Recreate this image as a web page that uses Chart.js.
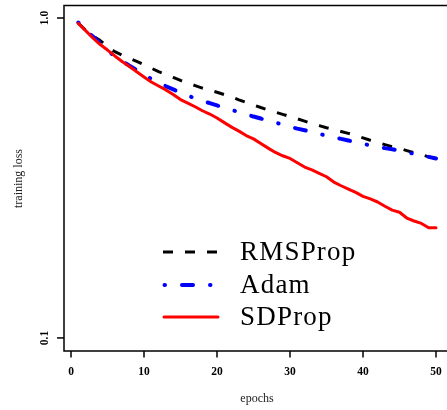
<!DOCTYPE html>
<html>
<head>
<meta charset="utf-8">
<script src="https://cdn.jsdelivr.net/npm/chart.js@4"></script>
<style>
  body { margin: 0; background: #fff; }
  canvas { display: block; }
</style>
</head>
<body>
<canvas id="lossChart" width="447" height="410"></canvas>
<script>
var epochs = [1, 2, 3, 4, 5, 6, 7, 8, 9, 10, 11, 12, 13, 14, 15, 16, 17, 18, 19, 20,
              21, 22, 23, 24, 25, 26, 27, 28, 29, 30, 31, 32, 33, 34, 35, 36, 37, 38, 39, 40,
              41, 42, 43, 44, 45, 46, 47, 48, 49, 50];

var rmsprop = [0.965, 0.915, 0.880, 0.850, 0.815, 0.785, 0.765, 0.748, 0.732, 0.714,
               0.697, 0.680, 0.666, 0.652, 0.638, 0.626, 0.615, 0.604, 0.595, 0.586,
               0.576, 0.566, 0.555, 0.545, 0.535, 0.525, 0.516, 0.508, 0.500, 0.492,
               0.484, 0.476, 0.468, 0.461, 0.454, 0.448, 0.442, 0.436, 0.429, 0.422,
               0.415, 0.409, 0.402, 0.396, 0.391, 0.385, 0.379, 0.374, 0.368, 0.364];

var adam = [0.968, 0.915, 0.875, 0.835, 0.790, 0.760, 0.733, 0.710, 0.688, 0.666,
            0.645, 0.628, 0.612, 0.598, 0.585, 0.572, 0.561, 0.551, 0.542, 0.533,
            0.524, 0.516, 0.508, 0.500, 0.492, 0.485, 0.478, 0.471, 0.464, 0.457,
            0.451, 0.446, 0.440, 0.434, 0.429, 0.424, 0.419, 0.414, 0.409, 0.404,
            0.400, 0.396, 0.392, 0.389, 0.385, 0.381, 0.376, 0.372, 0.368, 0.364];

var sdprop = [0.962, 0.913, 0.866, 0.826, 0.794, 0.761, 0.731, 0.705, 0.679, 0.654,
              0.631, 0.613, 0.596, 0.577, 0.556, 0.542, 0.528, 0.513, 0.501, 0.487,
              0.471, 0.456, 0.443, 0.429, 0.419, 0.405, 0.392, 0.380, 0.371, 0.364,
              0.353, 0.342, 0.335, 0.327, 0.319, 0.307, 0.299, 0.292, 0.285, 0.277,
              0.272, 0.266, 0.258, 0.251, 0.247, 0.237, 0.232, 0.228, 0.221, 0.221];

var seriesNames = ['RMSProp', 'Adam', 'SDProp'];
var xTicks = [0, 10, 20, 30, 40, 50];
var yTicks = [0.1, 1.0];
var yTickLabels = ['0.1', '1.0'];

function points(values) {
    return epochs.map(function (e, i) { return { x: e, y: values[i] }; });
}

// line looks, shared by the plot and the hand drawn legend
var looks = [
    { color: '#000000', width: 3, dash: [10, 12], cap: 'butt' },
    { color: '#0000ff', width: 4, dash: [0.5, 17, 11, 17], cap: 'round' },
    { color: '#ff0000', width: 3, dash: [], cap: 'round' }
];

// R style box, detached tick marks, labels and legend
var rStyle = {
    id: 'rStyle',
    afterDraw: function (chart) {
        var ctx = chart.ctx;
        var a = chart.chartArea;
        var xs = chart.scales.x, ys = chart.scales.y;
        ctx.save();
        ctx.strokeStyle = '#000';
        ctx.lineWidth = 1.5;
        ctx.beginPath();
        ctx.moveTo(447, a.top - 0.5);
        ctx.lineTo(a.left, a.top - 0.5);
        ctx.lineTo(a.left, a.bottom);
        ctx.lineTo(447, a.bottom);
        ctx.stroke();

        ctx.fillStyle = '#000';
        ctx.font = 'bold 11.5px "Liberation Serif"';
        ctx.textAlign = 'center';
        ctx.textBaseline = 'middle';
        xTicks.forEach(function (v) {
            var px = xs.getPixelForValue(v);
            ctx.beginPath();
            ctx.moveTo(px, a.bottom);
            ctx.lineTo(px, a.bottom + 6.5);
            ctx.stroke();
            ctx.fillText(String(v), px, 372);
        });
        yTicks.forEach(function (v, i) {
            var py = ys.getPixelForValue(v);
            ctx.beginPath();
            ctx.moveTo(a.left, py);
            ctx.lineTo(a.left - 7, py);
            ctx.stroke();
            ctx.save();
            ctx.translate(45, py);
            ctx.rotate(-Math.PI / 2);
            ctx.fillText(yTickLabels[i], 0, 0);
            ctx.restore();
        });

        ctx.fillStyle = '#222';
        ctx.font = '12px "Liberation Serif"';
        ctx.fillText('epochs', (a.left + a.right) / 2 + 2, 399);
        ctx.save();
        ctx.translate(19, (a.top + a.bottom) / 2);
        ctx.rotate(-Math.PI / 2);
        ctx.fillText('training loss', 0, 0);
        ctx.restore();

        // legend
        var rows = [252, 285, 317];
        var starts = [163, 164.5, 164];
        ctx.font = '27px "Liberation Serif"';
        ctx.letterSpacing = '1.2px';
        ctx.textAlign = 'left';
        ctx.textBaseline = 'alphabetic';
        ctx.fillStyle = '#000';
        seriesNames.forEach(function (name, i) {
            var lk = looks[i];
            ctx.strokeStyle = lk.color;
            ctx.lineWidth = lk.width;
            ctx.lineCap = lk.cap;
            ctx.setLineDash(lk.dash);
            ctx.beginPath();
            ctx.moveTo(starts[i], rows[i]);
            ctx.lineTo(218, rows[i]);
            ctx.stroke();
            ctx.setLineDash([]);
            ctx.fillText(name, 240, rows[i] + 8);
        });
        ctx.restore();
    }
};

var ctx = document.getElementById('lossChart').getContext('2d');
var chart = new Chart(ctx, {
    type: 'line',
    data: {
        datasets: [rmsprop, adam, sdprop].map(function (vals, i) {
            return {
                label: seriesNames[i],
                data: points(vals),
                borderColor: looks[i].color,
                borderWidth: looks[i].width,
                borderDash: looks[i].dash,
                borderCapStyle: looks[i].cap,
                borderJoinStyle: 'round',
                pointRadius: 0,
                fill: false,
                tension: 0,
                order: 3 - i
            };
        })
    },
    options: {
        responsive: false,
        animation: false,
        layout: { padding: { left: 64, top: 6, right: 1, bottom: 59 } },
        plugins: { legend: { display: false }, tooltip: { enabled: false } },
        scales: {
            x: { type: 'linear', min: -0.959, max: 51.37, display: false },
            y: { type: 'logarithmic', min: 0.09103, max: 1.0902, display: false }
        }
    },
    plugins: [rStyle]
});
</script>
</body>
</html>
